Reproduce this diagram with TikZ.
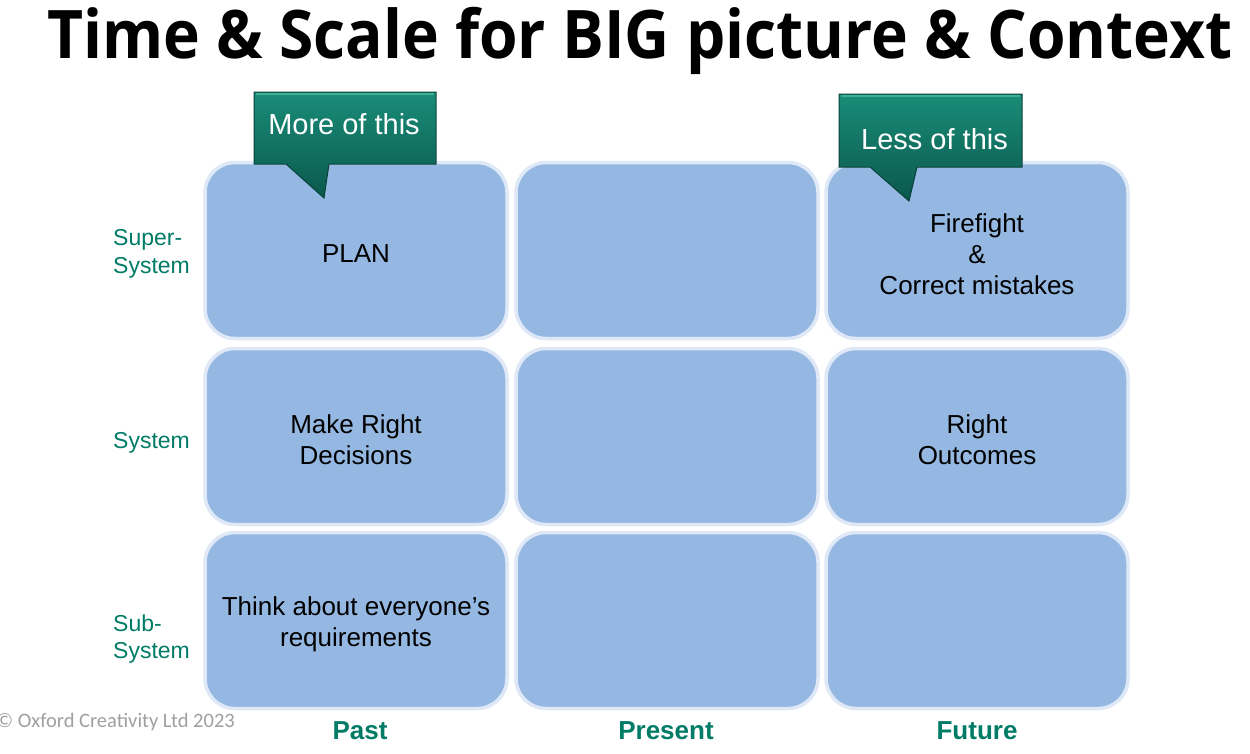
\documentclass[tikz,border=0pt]{standalone}
\usepackage{fontspec}
\usepackage{graphicx}
\setmainfont{Liberation Sans}
\newfontfamily\titlefont{Open Sans}
\newfontfamily\copyfont{Carlito}
\definecolor{cellfill}{RGB}{149,184,226}
\definecolor{cellglow}{RGB}{222,232,246}
\definecolor{teal}{RGB}{0,124,102}
\definecolor{calltop}{RGB}{26,140,120}
\definecolor{callbot}{RGB}{10,88,76}
\definecolor{callline}{RGB}{8,66,58}
\definecolor{callhi}{RGB}{60,175,150}
\definecolor{copygray}{RGB}{160,160,160}
\tikzset{
  cell/.style={draw=cellglow, line width=3.5pt, fill=cellfill, rounded corners=30pt,
    minimum width=302pt, minimum height=176pt},
  celltext/.style={align=center, inner sep=0pt,
    font=\fontsize{26}{31}\selectfont, text=black},
  rowlab/.style={anchor=west, align=left, inner sep=0pt, text=teal,
    font=\fontsize{23}{27.5}\selectfont},
  collab/.style={anchor=base, inner sep=0pt, text=teal,
    font=\bfseries\fontsize{26}{31}\selectfont},
  callout/.style={top color=calltop, bottom color=callbot, draw=callline, line width=1pt},
  calltext/.style={anchor=base, inner sep=0pt, text=white,
    font=\fontsize{29}{34}\selectfont}
}
\begin{document}
\begin{tikzpicture}[x=1pt, y=-1pt]
\useasboundingbox[fill=white] (0,0) rectangle (1250,753);
% title
\node[anchor=base west, inner sep=0pt] (title) at (47,58)
  {\resizebox{1185pt}{\height}{\titlefont\bfseries\fontsize{67}{70}\selectfont Time \& Scale for BIG picture \& Context}};
% cells
\node[cell] (c11) at (356,250.5) {};
\node[cell] (c12) at (667,250.5) {};
\node[cell] (c13) at (977,250.5) {};
\node[cell] (c21) at (356,436.5) {};
\node[cell] (c22) at (667,436.5) {};
\node[cell] (c23) at (977,436.5) {};
\node[cell] (c31) at (356,620.5) {};
\node[cell] (c32) at (667,620.5) {};
\node[cell] (c33) at (977,620.5) {};
% cell texts
\node[celltext] (t11) at (356,254) {PLAN};
\node[celltext] (t13) at (977,254) {Firefight\\\&\\Correct mistakes};
\node[celltext] (t21) at (356,439.5) {Make Right\\Decisions};
\node[celltext] (t23) at (977,439.5) {Right\\Outcomes};
\node[celltext] (t31) at (356,624) {Think about everyone’s\\requirements};
% row labels
\node[rowlab] (r1) at (113,254) {Super-\\System};
\node[rowlab] (r2) at (113,443) {System};
\node[rowlab] (r3) at (113,639) {Sub-\\System};
% column labels
\node[collab] (k1) at (360,739) {Past};
\node[collab] (k2) at (666,739) {Present};
\node[collab] (k3) at (977,739) {Future};
% copyright
\node[anchor=base west, inner sep=0pt, text=copygray, font=\copyfont\fontsize{20.5}{24}\selectfont] (copy) at (-4,727) {© Oxford Creativity Ltd 2023};
% callouts
\path[callout] (254,92) -- (436,92) -- (436,164) -- (329,164) -- (324,198) -- (286,164) -- (254,164) -- cycle;
\draw[callhi, line width=1.5pt] (256,94) -- (434,94);
\node[calltext] (more) at (344,134) {More of this};
\path[callout] (839,94) -- (1022,94) -- (1022,167) -- (917,167) -- (909,201) -- (870,167) -- (839,167) -- cycle;
\draw[callhi, line width=1.5pt] (841,96) -- (1020,96);
\node[calltext] (less) at (934.5,149) {Less of this};
\end{tikzpicture}
\end{document}
